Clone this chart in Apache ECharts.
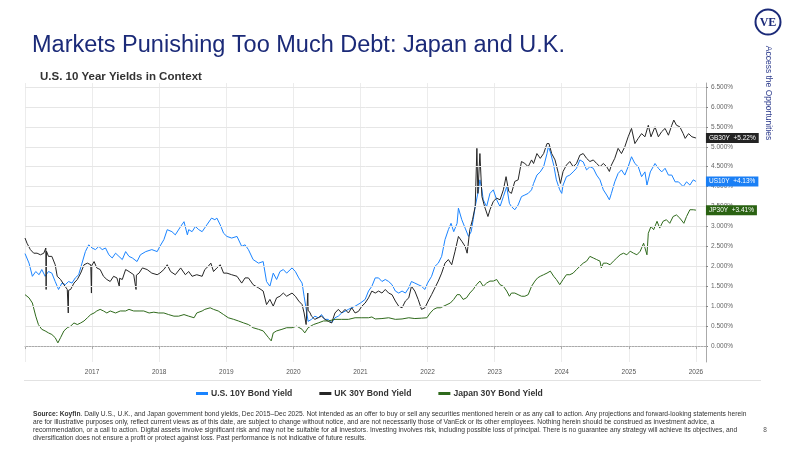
<!DOCTYPE html>
<html><head><meta charset="utf-8">
<script src="https://cdn.jsdelivr.net/npm/echarts@6/dist/echarts.min.js"></script>
<style>html,body{margin:0;padding:0;background:#fff}#c{width:800px;height:450px}</style>
</head><body><div id="c"></div>
<script>
// [decimal year, yield %]
const usYield = [[2016.00,2.32],[2016.06,2.08],[2016.11,1.75],[2016.16,1.87],[2016.21,1.79],[2016.25,1.92],[2016.30,1.75],[2016.35,1.87],[2016.40,1.83],[2016.45,1.62],[2016.50,1.42],[2016.55,1.58],[2016.60,1.54],[2016.65,1.62],[2016.70,1.58],[2016.75,1.71],[2016.80,1.79],[2016.85,2.08],[2016.90,2.37],[2016.95,2.54],[2017.00,2.46],[2017.05,2.42],[2017.10,2.50],[2017.15,2.42],[2017.20,2.46],[2017.25,2.29],[2017.30,2.21],[2017.35,2.33],[2017.40,2.25],[2017.45,2.17],[2017.50,2.37],[2017.55,2.25],[2017.60,2.21],[2017.67,2.12],[2017.72,2.29],[2017.80,2.37],[2017.89,2.42],[2017.97,2.37],[2018.01,2.50],[2018.07,2.67],[2018.12,2.92],[2018.19,2.87],[2018.24,2.79],[2018.32,3.00],[2018.37,3.12],[2018.42,2.79],[2018.44,2.92],[2018.49,2.87],[2018.54,3.00],[2018.59,2.92],[2018.64,2.87],[2018.71,3.04],[2018.78,3.21],[2018.83,3.17],[2018.86,3.21],[2018.91,3.04],[2018.96,2.83],[2019.01,2.75],[2019.08,2.71],[2019.16,2.75],[2019.23,2.50],[2019.28,2.54],[2019.33,2.42],[2019.40,2.17],[2019.48,2.08],[2019.55,2.12],[2019.60,1.62],[2019.65,1.50],[2019.70,1.83],[2019.75,1.67],[2019.80,1.87],[2019.85,1.92],[2019.90,1.83],[2019.98,1.96],[2020.03,1.87],[2020.08,1.71],[2020.13,1.58],[2020.16,1.25],[2020.20,0.83],[2020.22,0.62],[2020.27,0.67],[2020.32,0.75],[2020.37,0.71],[2020.42,0.79],[2020.47,0.67],[2020.52,0.67],[2020.57,0.58],[2020.62,0.71],[2020.67,0.75],[2020.72,0.83],[2020.82,0.92],[2020.92,1.00],[2021.00,1.08],[2021.07,1.17],[2021.12,1.38],[2021.17,1.50],[2021.22,1.71],[2021.27,1.71],[2021.32,1.62],[2021.37,1.67],[2021.42,1.62],[2021.47,1.54],[2021.52,1.38],[2021.57,1.33],[2021.62,1.38],[2021.67,1.33],[2021.72,1.46],[2021.76,1.62],[2021.81,1.58],[2021.86,1.54],[2021.91,1.50],[2021.96,1.42],[2022.00,1.58],[2022.06,1.75],[2022.11,2.00],[2022.16,2.08],[2022.21,2.25],[2022.26,2.67],[2022.31,2.92],[2022.35,3.08],[2022.39,2.87],[2022.44,3.08],[2022.46,3.46],[2022.51,3.17],[2022.56,2.96],[2022.61,2.75],[2022.65,2.87],[2022.68,3.17],[2022.71,3.50],[2022.76,3.92],[2022.78,4.17],[2022.81,3.92],[2022.83,3.67],[2022.88,3.50],[2022.93,3.83],[2022.98,3.92],[2023.03,3.67],[2023.08,3.50],[2023.13,3.75],[2023.18,4.00],[2023.22,3.58],[2023.25,3.50],[2023.30,3.42],[2023.35,3.54],[2023.40,3.75],[2023.45,3.79],[2023.50,3.83],[2023.55,3.92],[2023.58,4.08],[2023.63,4.29],[2023.68,4.37],[2023.73,4.50],[2023.78,4.83],[2023.80,5.00],[2023.83,4.87],[2023.88,4.54],[2023.92,4.17],[2023.97,3.92],[2024.00,3.83],[2024.02,4.04],[2024.07,4.25],[2024.12,4.29],[2024.17,4.37],[2024.22,4.46],[2024.27,4.67],[2024.32,4.62],[2024.37,4.42],[2024.42,4.50],[2024.47,4.46],[2024.52,4.29],[2024.57,4.17],[2024.62,3.92],[2024.67,3.79],[2024.71,3.67],[2024.74,3.83],[2024.79,4.12],[2024.84,4.33],[2024.89,4.42],[2024.94,4.29],[2024.99,4.50],[2025.04,4.75],[2025.09,4.58],[2025.14,4.50],[2025.19,4.25],[2025.24,4.37],[2025.27,4.04],[2025.32,4.37],[2025.39,4.58],[2025.44,4.46],[2025.49,4.37],[2025.54,4.46],[2025.59,4.29],[2025.64,4.29],[2025.69,4.12],[2025.74,4.12],[2025.81,4.00],[2025.86,4.12],[2025.91,4.04],[2025.96,4.17],[2026.00,4.13]];
const ukYield = [[2016.00,2.71],[2016.03,2.58],[2016.08,2.42],[2016.13,2.33],[2016.18,2.33],[2016.23,2.29],[2016.28,2.33],[2016.31,2.46],[2016.315,1.42],[2016.32,2.38],[2016.35,2.25],[2016.40,2.25],[2016.45,2.04],[2016.48,1.75],[2016.53,1.67],[2016.58,1.54],[2016.63,1.42],[2016.645,0.83],[2016.65,1.40],[2016.68,1.42],[2016.73,1.58],[2016.78,1.67],[2016.83,1.83],[2016.88,2.04],[2016.93,2.08],[2016.98,2.04],[2016.99,1.33],[2016.995,2.02],[2017.03,2.12],[2017.07,1.96],[2017.12,1.92],[2017.17,1.75],[2017.22,1.67],[2017.27,1.62],[2017.32,1.75],[2017.37,1.71],[2017.405,1.50],[2017.41,1.70],[2017.45,1.67],[2017.50,1.92],[2017.55,1.87],[2017.62,1.79],[2017.655,1.42],[2017.66,1.78],[2017.70,1.83],[2017.75,1.96],[2017.82,1.92],[2017.89,1.83],[2017.97,1.79],[2018.01,1.83],[2018.07,1.92],[2018.12,2.04],[2018.17,1.87],[2018.24,1.79],[2018.32,1.96],[2018.39,1.79],[2018.44,1.87],[2018.49,1.75],[2018.56,1.79],[2018.64,1.75],[2018.68,1.92],[2018.73,2.00],[2018.77,2.08],[2018.81,1.87],[2018.86,1.96],[2018.91,2.04],[2018.96,1.83],[2019.01,1.83],[2019.08,1.79],[2019.16,1.75],[2019.23,1.58],[2019.28,1.71],[2019.33,1.71],[2019.40,1.54],[2019.48,1.46],[2019.55,1.38],[2019.60,1.04],[2019.65,1.17],[2019.70,1.00],[2019.75,1.21],[2019.80,1.25],[2019.85,1.33],[2019.90,1.25],[2019.98,1.33],[2020.03,1.25],[2020.08,1.13],[2020.13,1.04],[2020.16,0.83],[2020.19,0.54],[2020.20,0.58],[2020.215,1.33],[2020.22,0.90],[2020.25,0.83],[2020.27,0.75],[2020.32,0.67],[2020.37,0.71],[2020.42,0.75],[2020.47,0.67],[2020.52,0.62],[2020.57,0.58],[2020.62,0.83],[2020.67,0.92],[2020.72,0.83],[2020.77,0.92],[2020.82,0.83],[2020.87,0.96],[2020.92,0.83],[2020.97,0.87],[2021.02,1.00],[2021.07,1.08],[2021.12,1.21],[2021.17,1.38],[2021.22,1.33],[2021.27,1.38],[2021.32,1.33],[2021.37,1.42],[2021.42,1.33],[2021.47,1.29],[2021.52,1.13],[2021.57,1.00],[2021.62,0.96],[2021.67,1.13],[2021.72,1.21],[2021.76,1.50],[2021.81,1.38],[2021.86,1.17],[2021.91,0.92],[2021.96,0.96],[2022.01,1.13],[2022.06,1.29],[2022.11,1.46],[2022.16,1.63],[2022.21,1.83],[2022.26,2.08],[2022.31,2.17],[2022.36,2.04],[2022.41,2.38],[2022.46,2.75],[2022.51,2.63],[2022.56,2.50],[2022.59,2.33],[2022.63,2.92],[2022.67,3.17],[2022.71,3.50],[2022.735,4.96],[2022.75,3.83],[2022.78,4.83],[2022.81,3.75],[2022.85,3.50],[2022.90,3.25],[2022.93,3.42],[2022.98,3.63],[2023.03,3.71],[2023.08,3.67],[2023.13,3.92],[2023.17,4.25],[2023.21,3.88],[2023.25,3.83],[2023.30,4.13],[2023.35,4.17],[2023.40,4.63],[2023.45,4.58],[2023.50,4.50],[2023.55,4.67],[2023.58,4.58],[2023.63,4.83],[2023.68,4.71],[2023.73,4.83],[2023.78,5.08],[2023.81,5.08],[2023.85,4.83],[2023.90,4.67],[2023.95,4.33],[2023.98,4.08],[2024.02,4.38],[2024.07,4.54],[2024.12,4.63],[2024.17,4.50],[2024.22,4.58],[2024.27,4.79],[2024.32,4.83],[2024.37,4.71],[2024.42,4.63],[2024.47,4.67],[2024.52,4.58],[2024.57,4.50],[2024.62,4.58],[2024.67,4.50],[2024.71,4.38],[2024.74,4.54],[2024.79,4.71],[2024.84,4.96],[2024.89,4.83],[2024.94,5.00],[2024.99,5.25],[2025.04,5.46],[2025.09,5.08],[2025.14,5.21],[2025.19,5.33],[2025.24,5.25],[2025.29,5.54],[2025.33,5.25],[2025.39,5.50],[2025.44,5.25],[2025.49,5.38],[2025.54,5.46],[2025.59,5.29],[2025.64,5.54],[2025.67,5.67],[2025.71,5.54],[2025.76,5.50],[2025.81,5.33],[2025.84,5.21],[2025.89,5.33],[2025.94,5.25],[2026.00,5.22]];
const jpYield = [[2016.00,1.29],[2016.06,1.21],[2016.11,1.08],[2016.16,0.75],[2016.20,0.54],[2016.25,0.42],[2016.30,0.38],[2016.35,0.33],[2016.40,0.29],[2016.45,0.21],[2016.49,0.08],[2016.53,0.21],[2016.58,0.38],[2016.63,0.46],[2016.68,0.50],[2016.73,0.58],[2016.78,0.54],[2016.83,0.58],[2016.88,0.63],[2016.93,0.71],[2016.98,0.79],[2017.03,0.83],[2017.07,0.88],[2017.12,0.92],[2017.17,0.88],[2017.22,0.83],[2017.27,0.88],[2017.35,0.83],[2017.42,0.88],[2017.50,0.88],[2017.55,0.92],[2017.62,0.88],[2017.70,0.88],[2017.77,0.88],[2017.85,0.83],[2017.92,0.85],[2017.99,0.83],[2018.07,0.83],[2018.14,0.79],[2018.22,0.75],[2018.29,0.75],[2018.37,0.79],[2018.44,0.75],[2018.52,0.71],[2018.56,0.83],[2018.64,0.88],[2018.68,0.92],[2018.76,0.96],[2018.81,0.92],[2018.88,0.88],[2018.96,0.79],[2019.03,0.71],[2019.11,0.67],[2019.18,0.63],[2019.26,0.58],[2019.33,0.54],[2019.40,0.46],[2019.48,0.42],[2019.55,0.38],[2019.63,0.21],[2019.67,0.13],[2019.70,0.33],[2019.75,0.38],[2019.83,0.42],[2019.90,0.46],[2019.98,0.46],[2020.05,0.50],[2020.13,0.42],[2020.17,0.33],[2020.22,0.46],[2020.30,0.54],[2020.37,0.58],[2020.45,0.63],[2020.52,0.63],[2020.62,0.67],[2020.72,0.67],[2020.82,0.67],[2020.92,0.71],[2021.02,0.71],[2021.12,0.71],[2021.17,0.73],[2021.22,0.68],[2021.32,0.69],[2021.42,0.71],[2021.52,0.67],[2021.62,0.68],[2021.72,0.71],[2021.81,0.69],[2021.91,0.70],[2021.99,0.71],[2022.04,0.83],[2022.09,0.92],[2022.14,0.96],[2022.19,0.96],[2022.24,1.00],[2022.29,1.04],[2022.34,1.08],[2022.39,1.17],[2022.44,1.29],[2022.48,1.29],[2022.53,1.17],[2022.58,1.21],[2022.63,1.33],[2022.68,1.42],[2022.73,1.54],[2022.78,1.63],[2022.83,1.50],[2022.88,1.58],[2022.93,1.63],[2022.98,1.63],[2023.03,1.67],[2023.08,1.54],[2023.13,1.50],[2023.18,1.38],[2023.22,1.25],[2023.25,1.33],[2023.30,1.33],[2023.35,1.29],[2023.40,1.25],[2023.45,1.25],[2023.50,1.29],[2023.55,1.50],[2023.60,1.63],[2023.64,1.71],[2023.68,1.75],[2023.73,1.79],[2023.78,1.83],[2023.83,1.88],[2023.88,1.75],[2023.92,1.67],[2023.97,1.54],[2024.02,1.67],[2024.07,1.79],[2024.12,1.79],[2024.17,1.83],[2024.22,1.92],[2024.27,2.00],[2024.32,2.08],[2024.37,2.13],[2024.42,2.25],[2024.47,2.21],[2024.52,2.17],[2024.57,2.13],[2024.59,1.96],[2024.62,2.08],[2024.67,2.08],[2024.72,2.04],[2024.77,2.13],[2024.82,2.21],[2024.87,2.29],[2024.92,2.33],[2024.97,2.29],[2025.02,2.38],[2025.07,2.33],[2025.12,2.29],[2025.17,2.38],[2025.22,2.58],[2025.24,2.62],[2025.27,2.29],[2025.29,2.83],[2025.33,3.00],[2025.37,2.92],[2025.42,3.13],[2025.46,2.96],[2025.51,3.13],[2025.56,3.17],[2025.61,3.08],[2025.66,3.25],[2025.71,3.29],[2025.76,3.21],[2025.82,3.08],[2025.86,3.25],[2025.91,3.42],[2025.96,3.42],[2026.00,3.41]];

const seriesNames = ['U.S. 10Y Bond Yield', 'UK 30Y Bond Yield', 'Japan 30Y Bond Yield'];
const endTickers = ['US10Y', 'GB30Y', 'JP30Y'];
const endValues = ['+4.13%', '+5.22%', '+3.41%'];
const yTickValues = [0, 0.5, 1, 1.5, 2, 2.5, 3, 3.5, 4, 4.5, 5, 5.5, 6, 6.5];

const colors = ['#1a84ff', '#262626', '#2f6a1c'];
const tagColors = ['#1a7ff5', '#232323', '#2a6212'];
const FONT = "'Liberation Sans', Arial, sans-serif";

const chart = echarts.init(document.getElementById('c'), null, {renderer: 'canvas'});

function mkSeries(i, data) {
  return {
    name: seriesNames[i], type: 'line', data: data, showSymbol: false, symbol: 'none',
    z: 3,
    lineStyle: {color: colors[i], width: 1},
    itemStyle: {color: colors[i]},
    endLabel: {
      show: true,
      formatter: endTickers[i] + '  ' + endValues[i],
      color: '#fff', backgroundColor: tagColors[i],
      fontFamily: FONT, fontSize: 6.5, padding: [2, 3, 1, 3], distance: 10
    }
  };
}

const footLines = [
  '{b|Source: Koyfin}. Daily U.S., U.K., and Japan government bond yields, Dec 2015\u2013Dec 2025. Not intended as an offer to buy or sell any securities mentioned herein or as any call to action. Any projections and forward-looking statements herein',
  'are for illustrative purposes only, reflect current views as of this date, are subject to change without notice, and are not necessarily those of VanEck or its other employees. Nothing herein should be construed as investment advice, a',
  'recommendation, or a call to action. Digital assets involve significant risk and may not be suitable for all investors. Investing involves risk, including possible loss of principal. There is no guarantee any strategy will achieve its objectives, and',
  'diversification does not ensure a profit or protect against loss. Past performance is not indicative of future results.'
];

const graphics = [
  {type: 'line', shape: {x1: 24, y1: 380.5, x2: 761, y2: 380.5}, style: {stroke: '#e2e2e2', lineWidth: 1}},
  {type: 'circle', shape: {cx: 768, cy: 22, r: 12.5}, style: {fill: '#fff', stroke: '#1b2a78', lineWidth: 2}},
  {type: 'text', x: 768, y: 22.5, style: {text: 'VE', fill: '#1b2a78', font: "bold 12px 'Liberation Serif', serif", textAlign: 'center', textVerticalAlign: 'middle'}},
  {type: 'text', x: 768, y: 93, rotation: -Math.PI / 2, style: {text: 'Access the Opportunities', fill: '#2b3a8c', font: "8.5px " + FONT, textAlign: 'center', textVerticalAlign: 'middle'}},
  {type: 'text', x: 765, y: 430, style: {text: '8', fill: '#555', font: "6.5px " + FONT, textAlign: 'center', textVerticalAlign: 'middle'}}
];
footLines.forEach(function (t, i) {
  graphics.push({type: 'text', x: 33, y: 414 + i * 8, scaleX: 0.89, style: {
    text: t, fill: '#333', fontFamily: FONT, fontSize: 7.5, textVerticalAlign: 'middle',
    rich: {b: {fontWeight: 'bold', fontFamily: FONT, fontSize: 7.5, fill: '#333'}}
  }});
});

const option = {
  animation: false,
  backgroundColor: '#fff',
  title: [
    {text: 'Markets Punishing Too Much Debt: Japan and U.K.', left: 27, top: 29,
     textStyle: {fontFamily: FONT, fontSize: 23.5, fontWeight: 'normal', color: '#1b2a78'}},
    {text: 'U.S. 10 Year Yields in Context', left: 35, top: 66,
     textStyle: {fontFamily: FONT, fontSize: 11.5, fontWeight: 'bold', color: '#333'}}
  ],
  legend: {
    top: 384, left: 191, itemGap: 27, itemWidth: 12, itemHeight: 3, icon: 'rect',
    data: seriesNames,
    textStyle: {fontFamily: FONT, fontSize: 8.6, fontWeight: 'bold', color: '#333', padding: [0, 0, 0, -2]}
  },
  grid: {left: 25, right: 94, top: 83, bottom: 88, containLabel: false},
  xAxis: {
    type: 'value', min: 2016, max: 2026.15, interval: 1,
    axisLine: {show: true, lineStyle: {color: '#aaa'}},
    axisTick: {show: true, length: 3, lineStyle: {color: '#aaa'}},
    axisLabel: {fontFamily: FONT, fontSize: 6.5, color: '#555', margin: 7,
      formatter: function (v) { return (Number.isInteger(v) && v > 2016) ? String(v) : ''; }},
    splitLine: {show: true, lineStyle: {color: '#ececec', width: 1}}
  },
  yAxis: {
    type: 'value', position: 'right', min: -0.4, max: 6.6,
    axisLine: {show: true, lineStyle: {color: '#aaa'}},
    axisTick: {show: true, length: 2, inside: false, lineStyle: {color: '#888'}, customValues: yTickValues},
    axisLabel: {fontFamily: FONT, fontSize: 6.5, color: '#666', margin: 5, customValues: yTickValues,
      formatter: function (v) { return v.toFixed(3) + '%'; }},
    splitLine: {show: false}
  },
  series: [
    {
      name: 'grid', type: 'line', data: [[2016, null]], silent: true, z: 1, symbol: 'none',
      markLine: {
        silent: true, symbol: 'none', animation: false, label: {show: false},
        lineStyle: {color: '#e6e6e6', type: 'solid', width: 1},
        data: yTickValues.filter(function (v) { return v > 0; }).map(function (v) { return {yAxis: v}; })
          .concat([{yAxis: 0, lineStyle: {color: '#c8c8c8', type: [1, 2], width: 1}}])
      }
    },
    mkSeries(0, usYield),
    mkSeries(1, ukYield),
    mkSeries(2, jpYield)
  ],
  graphic: graphics
};
chart.setOption(option);
</script></body></html>
